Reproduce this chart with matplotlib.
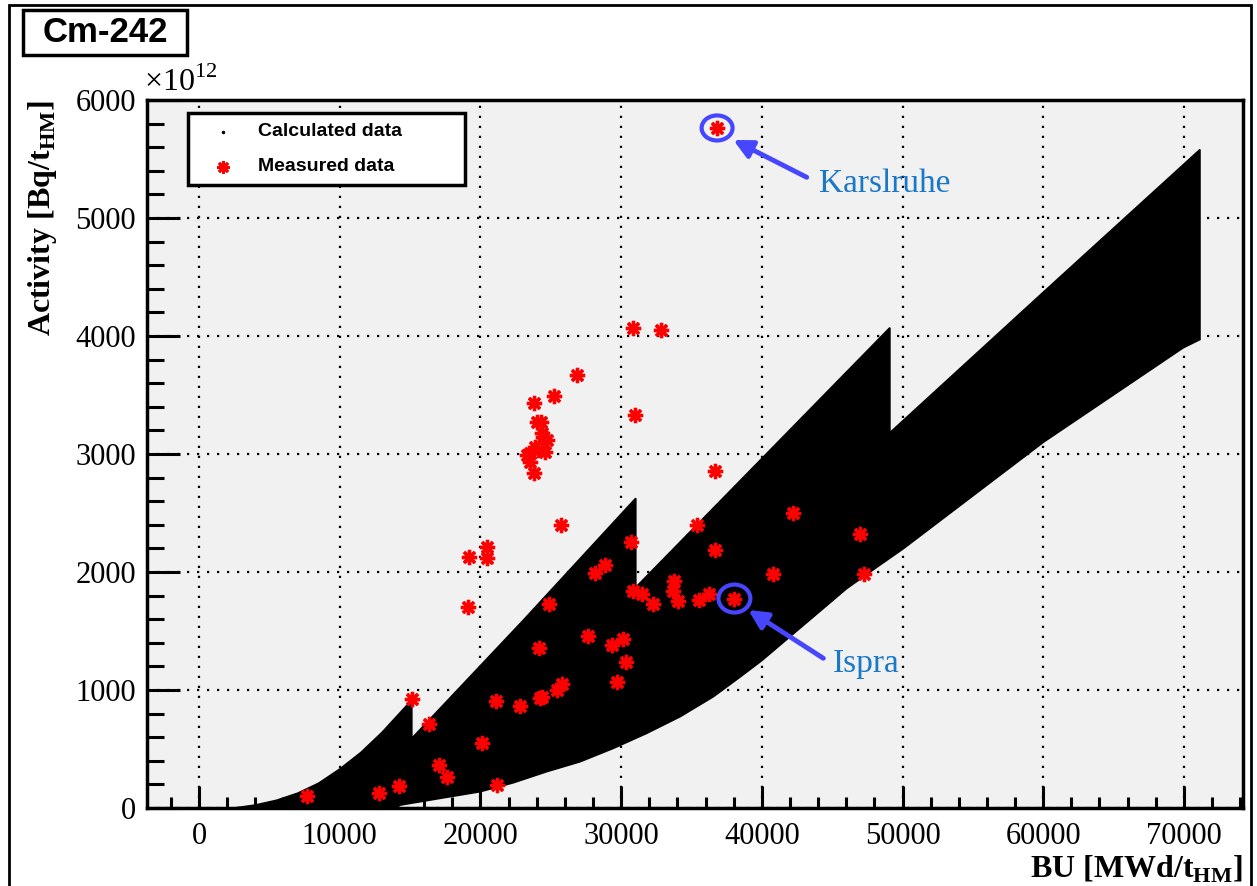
import numpy as np
import matplotlib.pyplot as plt
from matplotlib.patches import Rectangle, Ellipse
from matplotlib.ticker import MultipleLocator

plt.rcParams['font.family'] = 'Liberation Serif'
plt.rcParams['mathtext.fontset'] = 'custom'
plt.rcParams['mathtext.rm'] = 'Liberation Serif'
plt.rcParams['mathtext.bf'] = 'Liberation Serif:bold'

# calculated data envelope (BU in MWd/tHM, activity in 1e12 Bq/tHM)
calc_upper_x = [2500, 4000, 5500, 7000, 8500, 10000, 11500, 13000, 15120, 15120,
                23000, 31040, 31040, 36550, 49100, 49100, 60000, 70000, 71140]
calc_upper_y = [0, 25, 65, 125, 210, 330, 470, 640, 915, 590,
                1585, 2625, 1870, 2541, 4070, 3180, 4370, 5456, 5580]
calc_lower_x = [2500, 14000, 14300, 17600, 19970, 22340, 24710, 27080, 29450,
                31820, 34190, 36550, 38450, 40000, 43660, 46030, 48400, 50060,
                60010, 69960, 71140]
calc_lower_y = [0, 0, 25, 91, 138, 214, 308, 392, 506,
                633, 774, 943, 1110, 1250, 1620, 1860, 2060, 2198,
                3100, 3901, 3970]

# measured data
meas_x = [7700, 12810, 14210, 15120, 16350, 17030, 17650, 19140, 19220, 20500,
          20500, 20140, 21130, 21160, 22840, 24170, 24240, 24380, 24850, 25410,
          25770, 27670, 28150, 28860, 29380, 30160, 30380, 29690, 30870, 31460,
          32290, 33760, 33670, 34070, 35560, 36270, 38050, 30870, 32840, 26840,
          25230, 23830, 23990, 24270, 24470, 24710, 23530, 24120, 24590, 23290,
          23530, 23830, 31020, 36670, 25730, 35370, 42190, 30670, 36670, 46980,
          47290, 40770, 36820, 24350, 23900]
meas_y = [102, 124, 186, 921, 709, 364, 260, 1704, 2129, 2215,
          2116, 553, 904, 192, 867, 1359, 932, 941, 1726, 1000,
          1051, 1458, 1994, 2059, 1381, 1432, 1237, 1068, 1839, 1810,
          1725, 1926, 1839, 1754, 1763, 1810, 1775, 4065, 4051, 3672,
          3492, 3430, 3269, 3269, 3147, 3119, 3006, 3034, 3020, 2992,
          2935, 2842, 3331, 2856, 2398, 2398, 2497, 2252, 2185, 2322,
          1983, 1983, 5763, 3180, 3060]
karlsruhe = 62
ispra = 36

blue = '#4646ff'
txt_blue = '#1a78c8'

fig = plt.figure(figsize=(12.57, 8.86), dpi=100)
ax = fig.add_axes([147/1257, 78/886, 1096/1257, 708/886])
ax.set_facecolor('#f1f1f1')

ax.fill(np.concatenate([calc_upper_x, calc_lower_x[::-1]]),
        np.concatenate([calc_upper_y, calc_lower_y[::-1]]),
        color='k', lw=1.2, zorder=2)
ax.plot(meas_x, meas_y, ls='none', marker=(8, 2, 0), ms=11, mew=2.4,
        color='#ff0000', zorder=3)

# highlighted points
for i, w, h in [(karlsruhe, 2200, 212), (ispra, 2270, 237)]:
    ax.add_patch(Ellipse((meas_x[i], meas_y[i]), w, h, fill=False,
                         ec=blue, lw=3, zorder=4))
ax.annotate('', xy=(37975, 5661), xytext=(43190, 5345),
            arrowprops=dict(arrowstyle='-|>', color=blue, lw=3.5,
                            mutation_scale=28, shrinkA=0, shrinkB=0), zorder=4)
ax.annotate('', xy=(39040, 1678), xytext=(44370, 1269),
            arrowprops=dict(arrowstyle='-|>', color=blue, lw=3.5,
                            mutation_scale=28, shrinkA=0, shrinkB=0), zorder=4)
ax.text(44065, 5223, 'Karslruhe', color=txt_blue, fontsize=24, va='baseline')
ax.text(45040, 1155, 'Ispra', color=txt_blue, fontsize=24, va='baseline')

ax.set_xlim(-3700, 74200)
ax.set_ylim(0, 6000)
ax.set_xticks(range(0, 70001, 10000))
ax.set_yticks(range(0, 6001, 1000))
ax.xaxis.set_minor_locator(MultipleLocator(2000))
ax.yaxis.set_minor_locator(MultipleLocator(200))
ax.grid(True, which='major', color='k', ls=(0, (1, 3.5)), lw=1.6)
ax.set_axisbelow(True)
ax.tick_params(which='both', direction='in', top=False, right=False, width=2.2,
               labelsize=22)
ax.tick_params(axis='x', which='major', length=16, pad=10)
ax.tick_params(axis='x', which='minor', length=8)
ax.tick_params(axis='y', which='major', length=24, pad=8)
ax.tick_params(axis='y', which='minor', length=12)
for s in ax.spines.values():
    s.set_linewidth(2.5)

ax.text(-0.003, 1.003, r'$\times10^{12}$', transform=ax.transAxes, fontsize=23,
        ha='left', va='bottom')
ax.set_xlabel(r'BU [MWd/t$_{\mathbf{HM}}$]', fontsize=23, fontweight='bold',
              loc='right', labelpad=2)
ax.set_ylabel(r'Activity [Bq/t$_{\mathbf{HM}}$]', fontsize=23, fontweight='bold',
              loc='top', labelpad=12)

# legend box
ax.add_patch(Rectangle((0.0374, 0.880), 0.2527, 0.102, transform=ax.transAxes,
                       fc='white', ec='k', lw=2.5, zorder=5))
ax.plot([0.069], [0.955], 'k.', ms=3, transform=ax.transAxes, zorder=6)
ax.plot([0.069], [0.906], ls='none', marker=(8, 2, 0), ms=9, mew=2,
        color='#ff0000', transform=ax.transAxes, zorder=6)
ax.text(0.101, 0.955, 'Calculated data', transform=ax.transAxes, fontsize=14,
        fontweight='bold', family='Liberation Sans', va='center', zorder=6)
ax.text(0.101, 0.906, 'Measured data', transform=ax.transAxes, fontsize=14,
        fontweight='bold', family='Liberation Sans', va='center', zorder=6)

# title box and outer frame
fig.patches.append(Rectangle((23/1257, 1 - 55/886), 164/1257, 45/886,
                             transform=fig.transFigure, fill=False, ec='k', lw=2.5))
fig.text(105/1257, 1 - 33/886, 'Cm-242', family='Liberation Sans',
         fontweight='bold', fontsize=25, ha='center', va='center')
fig.patches.append(Rectangle((9/1257, -0.1), 1242/1257, 1.1 - 5/886,
                             transform=fig.transFigure, fill=False, ec='k', lw=2))

fig.savefig('out.png', dpi=100)
